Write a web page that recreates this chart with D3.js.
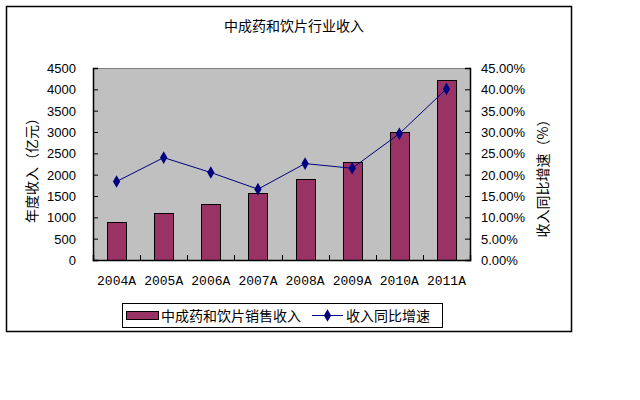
<!DOCTYPE html>
<html><head><meta charset="utf-8">
<script src="https://cdn.jsdelivr.net/npm/d3@7"></script>
<style>body{margin:0;background:#fff}</style>
</head><body><svg id="c" width="640" height="400"></svg>
<script>
const categories = ["2004A","2005A","2006A","2007A","2008A","2009A","2010A","2011A"];
const revenue = [886, 1096, 1306, 1562, 1889, 2308, 3008, 4220];
const growth = [18.4, 24.0, 20.5, 16.6, 22.6, 21.5, 29.6, 40.1];
const leftTicks = [0,500,1000,1500,2000,2500,3000,3500,4000,4500];
const rightTicks = [0,5,10,15,20,25,30,35,40,45];
const title = "中成药和饮片行业收入";
const leftTitle = "年度收入（亿元）";
const rightTitle = "收入同比增速（%）";
const legendBar = "中成药和饮片销售收入";
const legendLine = "收入同比增速";

const svg = d3.select("#c");
const cjk = "'Noto Sans CJK SC', sans-serif";
const num = "'Liberation Sans', Arial, sans-serif";
const mono = "'Liberation Mono', 'DejaVu Sans Mono', monospace";

svg.append("rect").attr("x",6.5).attr("y",6.5).attr("width",565).attr("height",325)
  .attr("fill","#fff").attr("stroke","#000").attr("stroke-width",1.5);

svg.append("text").attr("x",294).attr("y",31).attr("text-anchor","middle")
  .attr("font-family",cjk).attr("font-size",14).text(title);

const L=93, R=470, T=68, B=260;
svg.append("rect").attr("x",L).attr("y",T).attr("width",R-L).attr("height",B-T).attr("fill","#C0C0C0");
svg.append("line").attr("x1",L).attr("x2",R).attr("y1",T+0.5).attr("y2",T+0.5).attr("stroke","#808080");

const x = d3.scaleBand().domain(categories).range([L,R]);
const yL = d3.scaleLinear().domain([0,4500]).range([B,T]);
const yR = d3.scaleLinear().domain([0,45]).range([B,T]);

const bw = 19;
svg.selectAll(".bar").data(revenue).join("rect")
  .attr("x",(d,i)=>Math.round(x(categories[i])+x.bandwidth()/2-bw/2)+0.5)
  .attr("y",d=>Math.round(yL(d))+0.5)
  .attr("width",bw).attr("height",d=>B-Math.round(yL(d)))
  .attr("fill","#993366").attr("stroke","#000").attr("stroke-width",1);

const line = d3.line().x((d,i)=>x(categories[i])+x.bandwidth()/2).y(d=>yR(d));
svg.append("path").datum(growth).attr("d",line).attr("fill","none").attr("stroke","#000080").attr("stroke-width",1);
svg.selectAll(".pt").data(growth).join("path")
  .attr("transform",(d,i)=>`translate(${x(categories[i])+x.bandwidth()/2},${yR(d)})`)
  .attr("d",d3.symbol().type(d3.symbolDiamond).size(46)).attr("fill","#000080");

// axes
const gL = svg.append("g").attr("transform",`translate(${L},0)`)
  .call(d3.axisRight(yL).tickValues(leftTicks).tickSize(5).tickFormat(""));
svg.selectAll(".ll").data(leftTicks).join("text").attr("x",76).attr("y",d=>yL(d)+5)
  .attr("text-anchor","end").attr("font-family",num).attr("font-size",13).text(d=>d);

const gR = svg.append("g").attr("transform",`translate(${R},0)`)
  .call(d3.axisLeft(yR).tickValues(rightTicks).tickSize(5).tickFormat(""));
svg.selectAll(".rl").data(rightTicks).join("text").attr("x",481).attr("y",d=>yR(d)+5)
  .attr("font-family",num).attr("font-size",13).text(d=>d.toFixed(2)+"%");

const gB = svg.append("g").attr("transform",`translate(0,${B})`)
  .call(d3.axisTop(x).tickSize(5).tickFormat(""));
gB.selectAll(".tick").remove();
const bands = d3.range(categories.length+1).map(i=>L+i*x.step());
svg.selectAll(".bt").data(bands).join("line").attr("x1",d=>Math.round(d)+0.5).attr("x2",d=>Math.round(d)+0.5)
  .attr("y1",B).attr("y2",B-5).attr("stroke","#000");
svg.selectAll(".xl").data(categories).join("text")
  .attr("x",d=>x(d)+x.bandwidth()/2).attr("y",285).attr("text-anchor","middle")
  .attr("font-family",mono).attr("font-size",13).text(d=>d);
[gL,gR,gB].forEach(g=>g.selectAll(".domain,line").attr("stroke","#000"));
[gL,gR,gB].forEach(g=>g.select(".domain").attr("stroke-width",1.5));

svg.append("text").attr("transform","translate(37,167) rotate(-90)").attr("text-anchor","middle")
  .attr("font-family",cjk).attr("font-size",14).text(leftTitle);
svg.append("text").attr("transform","translate(548,175) rotate(-90)").attr("text-anchor","middle")
  .attr("font-family",cjk).attr("font-size",14).text(rightTitle);

// legend
svg.append("rect").attr("x",122.5).attr("y",303.5).attr("width",320).attr("height",24)
  .attr("fill","#fff").attr("stroke","#000").attr("stroke-width",1);
svg.append("rect").attr("x",126.5).attr("y",311.5).attr("width",32).attr("height",8)
  .attr("fill","#993366").attr("stroke","#000");
svg.append("text").attr("x",161).attr("y",321).attr("font-family",cjk).attr("font-size",14).text(legendBar);
svg.append("line").attr("x1",312).attr("x2",343).attr("y1",315.5).attr("y2",315.5).attr("stroke","#000080");
svg.append("path").attr("transform","translate(327.5,315.5)").attr("d",d3.symbol().type(d3.symbolDiamond).size(46)).attr("fill","#000080");
svg.append("text").attr("x",346).attr("y",321).attr("font-family",cjk).attr("font-size",14).text(legendLine);
</script></body></html>
